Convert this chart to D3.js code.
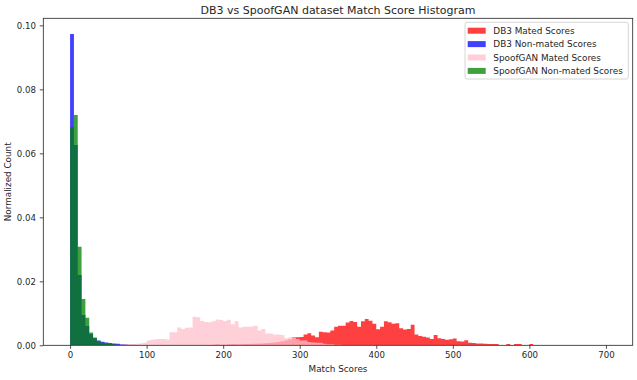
<!DOCTYPE html>
<html>
<head>
<meta charset="utf-8">
<script src="https://cdn.jsdelivr.net/npm/d3@7"></script>
<style>
  html, body { margin: 0; padding: 0; background: #fff; }
  svg { display: block; }
  text { font-family: "DejaVu Sans", sans-serif; fill: #262626; }
</style>
</head>
<body>
<svg id="chart" width="637" height="380"></svg>
<script>
// ---- data (normalized counts per bin, bins of width 5 score units) ----
const binWidth = 5;
const seriesNames = ["DB3 Mated Scores", "DB3 Non-mated Scores", "SpoofGAN Mated Scores", "SpoofGAN Non-mated Scores"];
const seriesColors = ["#ff0000", "#0000ff", "#ffc0cb", "#008000"];

const db3MatedStart = 185;
const db3Mated = [
  0.0002, 0.0003, 0.0002, 0.0002, 0.0003, 0.0004, 0.0003, 0.0003, 0.0004, 0.0004,
  0.0005, 0.0005, 0.0006, 0.0006, 0.0007, 0.0008, 0.0009, 0.0010, 0.0013, 0.0016,
  0.0019, 0.0025, 0.0025, 0.0026, 0.0034, 0.0038, 0.0031, 0.0025, 0.0042, 0.0041,
  0.0040, 0.0046, 0.0058, 0.0061, 0.0061, 0.0071, 0.0076, 0.0073, 0.0058, 0.0075,
  0.0082, 0.0077, 0.0067, 0.0050, 0.0058, 0.0075, 0.0072, 0.0067, 0.0069, 0.0053,
  0.0049, 0.0051, 0.0064, 0.0034, 0.0029, 0.0027, 0.0024, 0.0020, 0.0032, 0.0022,
  0.0020, 0.0017, 0.0019, 0.0021, 0.0013, 0.0012, 0.0016, 0.0008, 0.0007, 0.0006,
  0.0006, 0.0005, 0.0004, 0.0004, 0.0004, 0, 0, 0.0004, 0, 0.0004,
  0.0004, 0, 0, 0.0004
];

const db3NonMatedStart = 0;
const db3NonMated = [
  0.0973, 0.0626, 0.0220, 0.0095, 0.0060, 0.0035, 0.0022, 0.0015, 0.0011, 0.0009,
  0.0007, 0.0006, 0.0005, 0.0004, 0.0003, 0.0002, 0.0002
];

const spoofMatedStart = 65;
const spoofMated = [
  0.0003, 0.0003, 0.0004, 0.0004, 0.0005, 0.0006, 0.0008, 0.0015, 0.0017, 0.0019,
  0.0020, 0.0020, 0.0018, 0.0041, 0.0041, 0.0056, 0.0051, 0.0055, 0.0056, 0.0089,
  0.0088, 0.0076, 0.0073, 0.0072, 0.0075, 0.0081, 0.0079, 0.0076, 0.0080, 0.0066,
  0.0075, 0.0056, 0.0058, 0.0058, 0.0059, 0.0061, 0.0046, 0.0051, 0.0037, 0.0037,
  0.0034, 0.0034, 0.0032, 0.0022, 0.0025, 0.0024, 0.0020, 0.0015, 0.0015, 0.0010,
  0.0009, 0.0008, 0.0008, 0.0005, 0.0003, 0.0003, 0.0002, 0.0002
];

const spoofNonMatedStart = 0;
const spoofNonMated = [
  0.0682, 0.0720, 0.0308, 0.0145, 0.0086, 0.0040, 0.0024, 0.0012, 0.0008, 0.0005,
  0.0004, 0.0003
];

const xTicks = [0, 100, 200, 300, 400, 500, 600, 700];
const yTicks = [0, 0.02, 0.04, 0.06, 0.08, 0.10];

// ---- layout ----
const mLeft = 43.3, mRight = 632.7, mTop = 18.3, mBottom = 345.3;
const svg = d3.select("#chart");

const x = d3.scaleLinear().domain([-35, 735]).range([mLeft, mRight]);
const y = d3.scaleLinear().domain([0, 0.1022]).range([mBottom, mTop]);

const series = [
  { start: db3MatedStart, values: db3Mated },
  { start: db3NonMatedStart, values: db3NonMated },
  { start: spoofMatedStart, values: spoofMated },
  { start: spoofNonMatedStart, values: spoofNonMated }
];

const plot = svg.append("g");
plot.append("defs").append("clipPath").attr("id", "clip")
  .append("rect").attr("x", mLeft).attr("y", mTop).attr("width", mRight - mLeft).attr("height", mBottom - mTop);

const area = d3.area()
  .x(d => x(d.lo))
  .y0(y(0))
  .y1(d => y(d.v))
  .curve(d3.curveStepAfter);

series.forEach((s, i) => {
  const pts = s.values.map((v, k) => ({ lo: s.start + k * binWidth, v }));
  pts.push({ lo: s.start + s.values.length * binWidth, v: 0 });
  plot.append("path")
    .attr("clip-path", "url(#clip)")
    .attr("d", area(pts))
    .attr("fill", seriesColors[i])
    .attr("fill-opacity", 0.75);
});

// ---- axes ----
const xAxis = d3.axisBottom(x).tickValues(xTicks).tickSize(3.5).tickPadding(3.5).tickFormat(d3.format("d"));
const yAxis = d3.axisLeft(y).tickValues(yTicks).tickSize(3.5).tickPadding(3.8).tickFormat(d3.format(".2f"));

const gx = svg.append("g").attr("transform", `translate(0,${mBottom})`).call(xAxis);
const gy = svg.append("g").attr("transform", `translate(${mLeft},0)`).call(yAxis);
[gx, gy].forEach(g => {
  g.select(".domain").remove();
  g.selectAll(".tick line").attr("stroke", "#222").attr("stroke-width", 0.8);
  g.selectAll(".tick text").attr("font-size", 8.6).attr("font-family", "DejaVu Sans").attr("fill", "#262626");
});

// spines
svg.append("rect")
  .attr("x", mLeft).attr("y", mTop)
  .attr("width", mRight - mLeft).attr("height", mBottom - mTop)
  .attr("fill", "none").attr("stroke", "#222").attr("stroke-width", 0.8);

// ---- titles ----
svg.append("text")
  .attr("x", (mLeft + mRight) / 2).attr("y", 13.5)
  .attr("text-anchor", "middle").attr("font-size", 11)
  .text("DB3 vs SpoofGAN dataset Match Score Histogram");

svg.append("text")
  .attr("x", (mLeft + mRight) / 2).attr("y", 372)
  .attr("text-anchor", "middle").attr("font-size", 8.8)
  .text("Match Scores");

svg.append("text")
  .attr("transform", `translate(11,${(mTop + mBottom) / 2}) rotate(-90)`)
  .attr("text-anchor", "middle").attr("font-size", 8.8)
  .text("Normalized Count");

// ---- legend ----
const lg = svg.append("g");
lg.append("rect")
  .attr("x", 465).attr("y", 22.3).attr("width", 163.3).attr("height", 56.7)
  .attr("rx", 2).attr("fill", "#fff").attr("fill-opacity", 0.8)
  .attr("stroke", "#cccccc").attr("stroke-width", 0.8);
seriesNames.forEach((name, i) => {
  const cy = 30.7 + i * 13.4;
  lg.append("rect")
    .attr("x", 467.7).attr("y", cy - 3).attr("width", 18).attr("height", 6)
    .attr("fill", seriesColors[i]).attr("fill-opacity", 0.75);
  lg.append("text")
    .attr("x", 493.3).attr("y", cy + 3.3)
    .attr("font-size", 8.9)
    .text(name);
});
</script>
</body>
</html>
